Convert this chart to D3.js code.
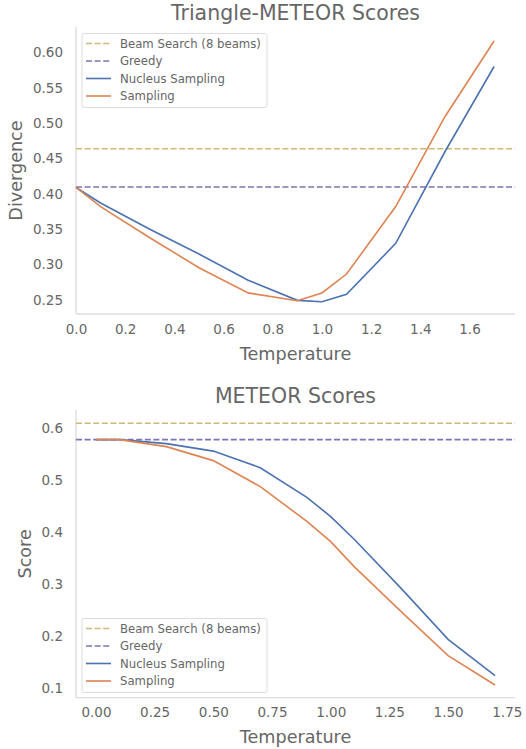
<!DOCTYPE html>
<html>
<head>
<meta charset="utf-8">
<script src="https://cdn.jsdelivr.net/npm/d3@7"></script>
<style>
  body { margin: 0; background: #fff; }
  svg { display: block; font-family: "DejaVu Sans", sans-serif; }
  .axis text { fill: #666; font-size: 13.5px; font-family: "DejaVu Sans", sans-serif; }
  .axis path, .axis line { stroke: #dcdcdc; }
</style>
</head>
<body>
<div id="chart"></div>
<script>
const temperatures = [0.0, 0.1, 0.3, 0.5, 0.7, 0.9, 1.0, 1.1, 1.3, 1.5, 1.7]

// Triangle-METEOR divergence
const triNucleus = [0.409, 0.387, 0.350, 0.315, 0.278, 0.2495, 0.2475, 0.258, 0.330, 0.4595, 0.580]
const triSampling = [0.409, 0.382, 0.338, 0.2956, 0.260, 0.249, 0.260, 0.2867, 0.382, 0.509, 0.616]
const triBeam = 0.4638
const triGreedy = 0.4096

// METEOR scores
const metNucleus = [0.578, 0.578, 0.5704, 0.556, 0.524, 0.4666, 0.430, 0.3866, 0.292, 0.1942, 0.1242]
const metSampling = [0.578, 0.578, 0.5646, 0.5377, 0.4877, 0.4204, 0.382, 0.334, 0.2473, 0.1627, 0.1064]
const metBeam = 0.6096
const metGreedy = 0.578

const triXTicks = [0.0, 0.2, 0.4, 0.6, 0.8, 1.0, 1.2, 1.4, 1.6]
const triYTicks = [0.25, 0.30, 0.35, 0.40, 0.45, 0.50, 0.55, 0.60]
const metXTicks = [0.00, 0.25, 0.50, 0.75, 1.00, 1.25, 1.50, 1.75]
const metYTicks = [0.1, 0.2, 0.3, 0.4, 0.5, 0.6]

const legendNames = ['Beam Search (8 beams)', 'Greedy', 'Nucleus Sampling', 'Sampling']
const colors = { beam: '#ccb974', greedy: '#8172b3', nucleus: '#4c72b0', sampling: '#dd8452' }

const width = 526, height = 749

const svg = d3.select('#chart').append('svg')
  .attr('width', width)
  .attr('height', height)

function drawPanel (opts) {
  const { top, bottom, xDomain, yDomain, xTicks, yTicks, xFmt, yFmt,
    title, titleY, yLabel, yLabelX, xLabelY, nucleus, sampling, beam, greedy, legendY } = opts
  const left = 76, right = 515

  const x = d3.scaleLinear().domain(xDomain).range([left, right])
  const y = d3.scaleLinear().domain(yDomain).range([bottom, top])

  const g = svg.append('g')

  const xAxis = g.append('g')
    .attr('class', 'axis')
    .attr('transform', `translate(0,${bottom})`)
    .call(d3.axisBottom(x).tickValues(xTicks).tickFormat(xFmt).tickSize(0).tickPadding(10))
  xAxis.attr('font-family', null).attr('font-size', null)
  xAxis.select('.domain').attr('d', `M${left},0H${right}`).attr('stroke-width', 1.3)
  xAxis.selectAll('text').attr('dy', '0.71em')

  const yAxis = g.append('g')
    .attr('class', 'axis')
    .attr('transform', `translate(${left},0)`)
    .call(d3.axisLeft(y).tickValues(yTicks).tickFormat(yFmt).tickSize(0).tickPadding(13))
  yAxis.attr('font-family', null).attr('font-size', null)
  yAxis.select('.domain').attr('d', `M0,${top}V${bottom}`).attr('stroke-width', 1.3)

  const hline = (v, c) => g.append('line')
    .attr('x1', left).attr('x2', right)
    .attr('y1', y(v)).attr('y2', y(v))
    .attr('stroke', c).attr('stroke-width', 1.6)
    .attr('stroke-dasharray', '6,2.6')
  hline(beam, colors.beam)
  hline(greedy, colors.greedy)

  const line = d3.line().x((d, i) => x(temperatures[i])).y(d => y(d))
  g.append('path').datum(nucleus).attr('d', line)
    .attr('fill', 'none').attr('stroke', colors.nucleus).attr('stroke-width', 1.6)
  g.append('path').datum(sampling).attr('d', line)
    .attr('fill', 'none').attr('stroke', colors.sampling).attr('stroke-width', 1.6)

  g.append('text')
    .attr('x', 295.5).attr('y', titleY)
    .attr('text-anchor', 'middle')
    .attr('fill', '#666').attr('font-size', 20.5)
    .text(title)

  g.append('text')
    .attr('x', 295.5).attr('y', xLabelY)
    .attr('text-anchor', 'middle')
    .attr('fill', '#666').attr('font-size', 17.6)
    .text('Temperature')

  g.append('text')
    .attr('transform', `translate(${yLabelX},${(top + bottom) / 2}) rotate(-90)`)
    .attr('text-anchor', 'middle')
    .attr('fill', '#666').attr('font-size', 17.6)
    .text(yLabel)

  // legend
  const lg = g.append('g').attr('transform', `translate(82,${legendY})`)
  lg.append('rect')
    .attr('width', 185).attr('height', 74).attr('rx', 2)
    .attr('fill', '#fff').attr('fill-opacity', 0.8)
    .attr('stroke', '#dcdcdc').attr('stroke-width', 1)
  const legendColors = [colors.beam, colors.greedy, colors.nucleus, colors.sampling]
  legendNames.forEach((name, i) => {
    const cy = 10 + i * 17.5
    lg.append('line')
      .attr('x1', 4).attr('x2', 29).attr('y1', cy).attr('y2', cy)
      .attr('stroke', legendColors[i]).attr('stroke-width', 1.6)
      .attr('stroke-dasharray', i < 2 ? '6,2.6' : null)
    lg.append('text')
      .attr('x', 38).attr('y', cy).attr('dy', '0.35em')
      .attr('fill', '#666').attr('font-size', 11.7)
      .text(name)
  })
}

drawPanel({
  top: 27, bottom: 314,
  xDomain: [0, 1.785], yDomain: [0.2302, 0.6358],
  xTicks: triXTicks, yTicks: triYTicks,
  xFmt: d3.format('.1f'), yFmt: d3.format('.2f'),
  title: 'Triangle-METEOR Scores', titleY: 20,
  yLabel: 'Divergence', yLabelX: 22, xLabelY: 359.5,
  nucleus: triNucleus, sampling: triSampling, beam: triBeam, greedy: triGreedy,
  legendY: 33.5
})

drawPanel({
  top: 410, bottom: 697.7,
  xDomain: [-0.085, 1.785], yDomain: [0.0819, 0.635],
  xTicks: metXTicks, yTicks: metYTicks,
  xFmt: d3.format('.2f'), yFmt: d3.format('.1f'),
  title: 'METEOR Scores', titleY: 403.3,
  yLabel: 'Score', yLabelX: 31, xLabelY: 743,
  nucleus: metNucleus, sampling: metSampling, beam: metBeam, greedy: metGreedy,
  legendY: 618.5
})
</script>
</body>
</html>
